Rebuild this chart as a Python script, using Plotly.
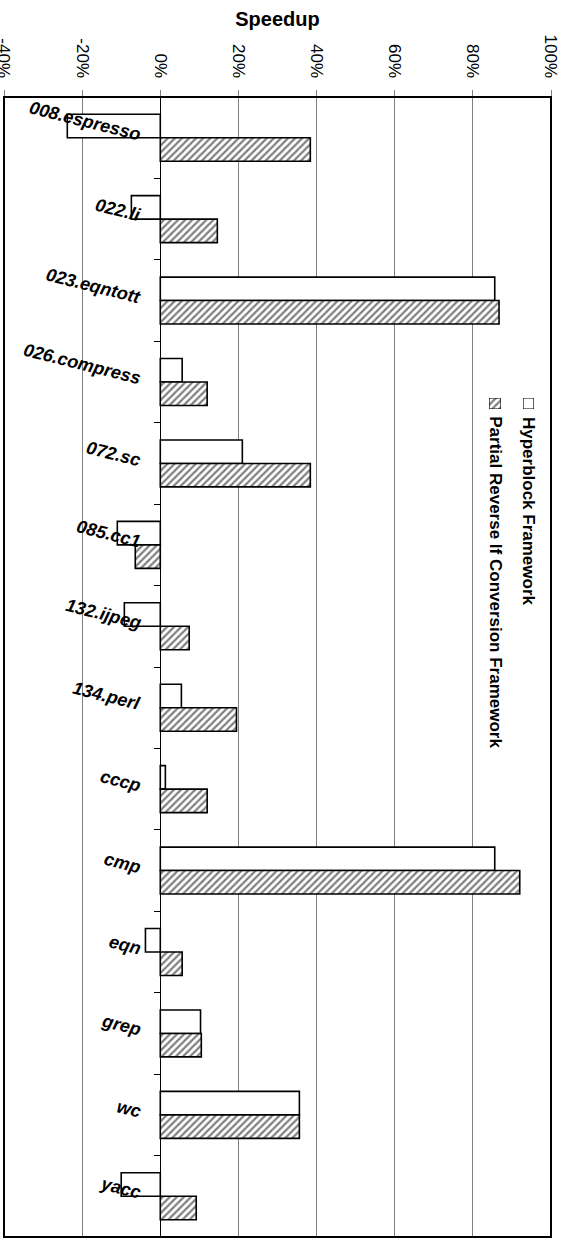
import plotly.graph_objects as go

# Benchmarks (top to bottom) and speedup in percent for each framework
benchmarks = [
    "008.espresso", "022.li", "023.eqntott", "026.compress", "072.sc",
    "085.cc1", "132.ijpeg", "134.perl", "cccp", "cmp", "eqn", "grep",
    "wc", "yacc",
]
hyperblock = [-23.8, -7.4, 85.6, 5.6, 21.0, -11.0, -9.2, 5.4, 1.3, 85.6,
              -3.8, 10.3, 35.6, -10.0]
partial_rif = [38.4, 14.6, 86.7, 12.0, 38.4, -6.4, 7.4, 19.5, 12.0, 92.0,
               5.6, 10.5, 35.6, 9.2]

series_names = ["Hyperblock Framework",
                "Partial Reverse If Conversion Framework"]

x_ticks = [-40, -20, 0, 20, 40, 60, 80, 100]
x_range = [-40, 100]

FONT = "Liberation Sans, Arial, sans-serif"
OUTLINE = dict(color="black", width=1.6)
HATCH = dict(shape="/", size=5, solidity=0.45, fgcolor="black", bgcolor="white")

fig = go.Figure()

fig.add_trace(go.Bar(
    name=series_names[0], y=benchmarks, x=hyperblock, orientation="h",
    marker=dict(color="white", line=OUTLINE),
))
fig.add_trace(go.Bar(
    name=series_names[1], y=benchmarks, x=partial_rif, orientation="h",
    marker=dict(color="white", line=OUTLINE, pattern=HATCH),
))

# Benchmark names, slanted, ending just left of the 0% line
for name in benchmarks:
    fig.add_annotation(
        x=0, y=name, xref="x", yref="y",
        text=name, showarrow=False, textangle=14,
        xanchor="right", yanchor="bottom", xshift=-15, yshift=-9,
        font=dict(family=FONT, size=18, color="black",
                  weight="bold", style="italic"),
    )

# Rotated legend: a small swatch (its own tiny axes) plus vertical text
legend_x = [(0.9488, 0.9689), 0.958], [(0.8867, 0.9086), 0.898]
for i, (name, ((sx0, sx1), tx)) in enumerate(zip(series_names, legend_x)):
    ax = str(i + 2)
    marker = dict(color="white", line=dict(color="black", width=1.2))
    if i == 1:
        marker["pattern"] = HATCH
    fig.add_trace(go.Bar(
        x=[1], y=[0], orientation="h", width=[1], marker=marker,
        xaxis="x" + ax, yaxis="y" + ax, hoverinfo="skip",
    ))
    fig.update_layout({
        "xaxis" + ax: dict(domain=[sx0, sx1], range=[0, 1], visible=False,
                           anchor="y" + ax, fixedrange=True),
        "yaxis" + ax: dict(domain=[0.7263, 0.7360], range=[-0.5, 0.5],
                           visible=False, anchor="x" + ax, fixedrange=True),
    })
    fig.add_annotation(
        x=tx, y=0.7215, xref="paper", yref="paper",
        text=name, showarrow=False, textangle=90,
        xanchor="center", yanchor="top",
        font=dict(family=FONT, size=17, color="black", weight="bold"),
    )

# Plot-area frame
fig.add_shape(type="rect", xref="paper", yref="paper",
              x0=0, x1=1, y0=0, y1=1,
              line=dict(color="black", width=2), layer="above")

zero_pos = (0 - x_range[0]) / (x_range[1] - x_range[0])

fig.update_layout(
    width=567, height=1239,
    margin=dict(l=4, r=16, t=97, b=2),
    paper_bgcolor="white", plot_bgcolor="white",
    barmode="group", bargap=0.423, bargroupgap=0,
    showlegend=False,
    font=dict(family=FONT, color="black"),
    title=dict(text="<b>Speedup</b>", x=(4 + 547 / 2) / 567, xanchor="center",
               y=1 - 19 / 1239, yanchor="middle",
               font=dict(family=FONT, size=20, color="black")),
    xaxis=dict(
        side="top", range=x_range, tickvals=x_ticks,
        ticktext=[f"{v}%" for v in x_ticks], tickangle=90,
        tickfont=dict(family=FONT, size=17, color="black"),
        ticklabeloverflow="allow", ticklabelstandoff=6, automargin=False,
        ticks="outside", ticklen=6, tickcolor="#808080", tickwidth=1,
        showgrid=True, gridcolor="#808080", gridwidth=1,
        zeroline=True, zerolinecolor="black", zerolinewidth=1.2,
        showline=False,
    ),
    yaxis=dict(
        type="category", autorange="reversed",
        anchor="free", position=zero_pos, automargin=False,
        showticklabels=False, showgrid=False, zeroline=False,
        showline=False, ticks="outside", tickson="boundaries",
        ticklen=6, tickcolor="black", tickwidth=1,
    ),
)

fig.write_html("out.html")
